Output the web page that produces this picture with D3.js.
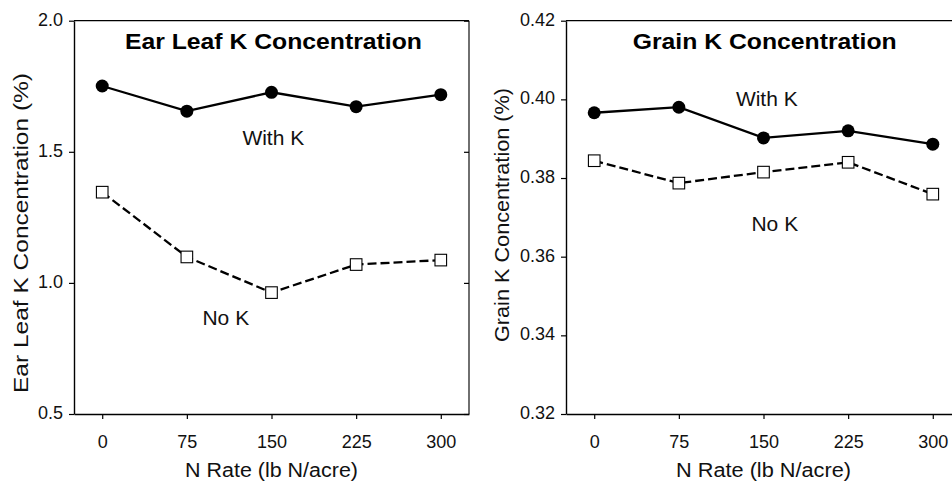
<!DOCTYPE html>
<html>
<head>
<meta charset="utf-8">
<script src="https://cdn.jsdelivr.net/npm/d3@7"></script>
<style>
  html, body { margin: 0; padding: 0; background: #fff; }
  svg { display: block; font-family: Arial, "Liberation Sans", sans-serif; }
</style>
</head>
<body>
<svg id="chart" width="952" height="483"></svg>
<script>
// ---- Data ----
const nRates = [0, 75, 150, 225, 300];
const xTickLabels = ["0", "75", "150", "225", "300"];

const earLeafWithK = [1.751, 1.655, 1.727, 1.672, 1.718];
const earLeafNoK   = [1.346, 1.099, 0.963, 1.070, 1.087];
const earLeafTicks = [0.5, 1.0, 1.5, 2.0];

const grainWithK = [0.3966, 0.3980, 0.3902, 0.3920, 0.3886];
const grainNoK   = [0.3844, 0.3787, 0.3815, 0.3840, 0.3759];
const grainTicks = [0.32, 0.34, 0.36, 0.38, 0.40, 0.42];

(function () {
const panels = [
  {
    title: "Ear Leaf K Concentration",
    yLabel: "Ear Leaf K Concentration (%)",
    xLabel: "N Rate (lb N/acre)",
    withK: earLeafWithK, noK: earLeafNoK,
    yDomain: [0.5, 2.0], yTicks: earLeafTicks, yFmt: d3.format(".1f"),
    left: 74,
    titleX: 273.4, titleLen: 297,
    withLab: [273.3, 145], noLab: [225.8, 325],
    yLab: [27.5, 233, 320], xLabLen: 173
  },
  {
    title: "Grain K Concentration",
    yLabel: "Grain K Concentration (%)",
    xLabel: "N Rate (lb N/acre)",
    withK: grainWithK, noK: grainNoK,
    yDomain: [0.32, 0.42], yTicks: grainTicks, yFmt: d3.format(".2f"),
    left: 566,
    titleX: 764.7, titleLen: 264,
    withLab: [766.8, 106], noLab: [774.8, 231],
    yLab: [509, 215, 254], xLabLen: 175
  }
];

const svg = d3.select("#chart");
const plotTop = 20.7, plotBottom = 414, pw = 395;
const FONT = "Arial, 'Liberation Sans', sans-serif";

panels.forEach(p => {
  const x = d3.scaleLinear().domain([-25, 325]).range([p.left, p.left + pw]);
  const y = d3.scaleLinear().domain(p.yDomain).range([plotBottom, plotTop]);
  const g = svg.append("g");

  // frame top & right
  g.append("line").attr("x1", p.left).attr("x2", p.left + pw).attr("y1", plotTop).attr("y2", plotTop)
    .attr("stroke", "#000").attr("stroke-width", 1.2);
  g.append("line").attr("x1", p.left + pw).attr("x2", p.left + pw).attr("y1", plotTop).attr("y2", plotBottom)
    .attr("stroke", "#333").attr("stroke-width", 1.4);

  // right-side inward ticks
  g.append("g").attr("transform", `translate(${p.left + pw},0)`)
    .call(d3.axisLeft(y).tickValues(p.yTicks).tickSize(5).tickFormat(""))
    .call(a => a.select(".domain").remove())
    .call(a => a.selectAll("line").attr("stroke-width", 1.2));

  // left axis
  g.append("g").attr("transform", `translate(${p.left},0)`)
    .call(d3.axisLeft(y).tickValues(p.yTicks).tickSize(5).tickSizeOuter(0).tickPadding(6).tickFormat(p.yFmt))
    .call(a => a.select(".domain").attr("stroke-width", 1.4))
    .call(a => a.selectAll("line").attr("stroke-width", 1.2))
    .call(a => a.selectAll("text").attr("font-size", 18).attr("fill", "#111").attr("font-family", FONT)
      .attr("dy", "0.25em"));

  // bottom axis
  g.append("g").attr("transform", `translate(0,${plotBottom})`)
    .call(d3.axisBottom(x).tickValues(nRates).tickSize(5).tickSizeOuter(0).tickPadding(0)
      .tickFormat((d, i) => xTickLabels[i]))
    .call(a => a.select(".domain").attr("stroke-width", 1.4))
    .call(a => a.selectAll("line").attr("stroke-width", 1.2))
    .call(a => a.selectAll("text").attr("font-size", 18).attr("fill", "#111").attr("font-family", FONT)
      .attr("dy", null).attr("y", 33.5));

  // axis labels
  g.append("text").attr("x", x(150)).attr("y", 477)
    .attr("text-anchor", "middle").attr("font-size", 19.5).attr("fill", "#111")
    .attr("textLength", p.xLabLen).attr("lengthAdjust", "spacingAndGlyphs").text(p.xLabel);
  g.append("text").attr("transform", `translate(${p.yLab[0]},${p.yLab[1]}) rotate(-90)`)
    .attr("text-anchor", "middle").attr("font-size", 20).attr("fill", "#111")
    .attr("textLength", p.yLab[2]).attr("lengthAdjust", "spacingAndGlyphs").text(p.yLabel);

  // title
  g.append("text").attr("x", p.titleX).attr("y", 49).attr("text-anchor", "middle")
    .attr("font-size", 22).attr("font-weight", "bold").attr("fill", "#000")
    .attr("textLength", p.titleLen).attr("lengthAdjust", "spacingAndGlyphs").text(p.title);

  const line = d3.line().x((d, i) => x(nRates[i])).y(d => y(d));

  // No K dashed
  g.append("path").datum(p.noK).attr("d", line).attr("fill", "none")
    .attr("stroke", "#000").attr("stroke-width", 2.3).attr("stroke-dasharray", "9,4");
  // With K solid
  g.append("path").datum(p.withK).attr("d", line).attr("fill", "none")
    .attr("stroke", "#000").attr("stroke-width", 2.3);

  // markers
  g.selectAll(".sq").data(p.noK).enter().append("rect")
    .attr("x", (d, i) => x(nRates[i]) - 5.8).attr("y", d => y(d) - 5.8)
    .attr("width", 11.6).attr("height", 11.6).attr("fill", "#fff").attr("stroke", "#000").attr("stroke-width", 1.1);
  g.selectAll(".ci").data(p.withK).enter().append("circle")
    .attr("cx", (d, i) => x(nRates[i])).attr("cy", d => y(d)).attr("r", 6.5).attr("fill", "#000");

  // series labels
  g.append("text").attr("x", p.withLab[0]).attr("y", p.withLab[1]).attr("text-anchor", "middle")
    .attr("font-size", 21).attr("fill", "#111").text("With K");
  g.append("text").attr("x", p.noLab[0]).attr("y", p.noLab[1]).attr("text-anchor", "middle")
    .attr("font-size", 21).attr("fill", "#111").text("No K");
});
})();
</script>
</body>
</html>
